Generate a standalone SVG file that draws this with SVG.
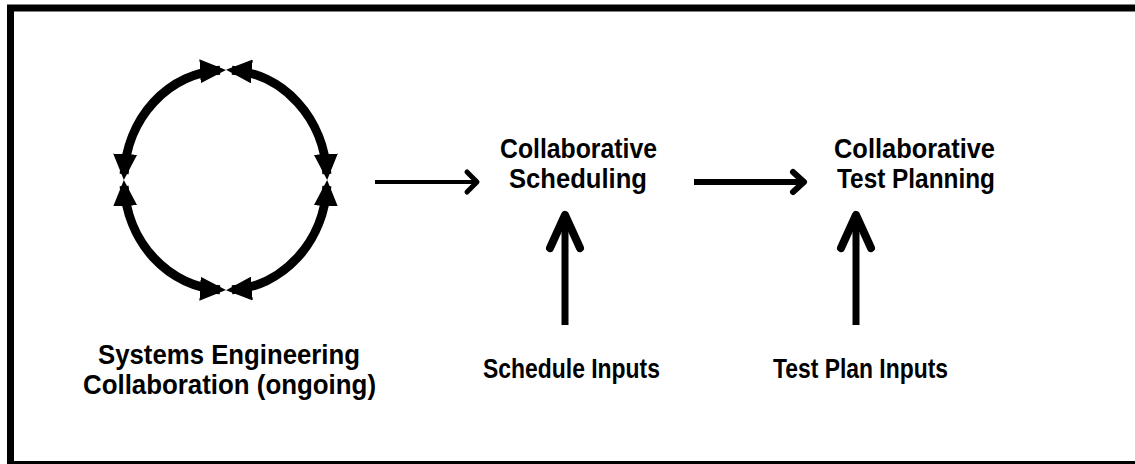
<svg xmlns="http://www.w3.org/2000/svg" width="1135" height="464" viewBox="0 0 1135 464">
<style>
  .lbl { font-family: "Liberation Sans", Arial, sans-serif; font-weight: bold; font-size: 27px; fill: #000; text-anchor: middle; }
  .ring { fill: none; stroke: #000; stroke-width: 9; marker-start: url(#tri); marker-end: url(#tri); }
  .line { fill: none; stroke: #000; stroke-linecap: butt; }
  .chev { fill: none; stroke: #000; stroke-linecap: round; stroke-linejoin: round; }
</style>
<defs>
  <marker id="tri" markerUnits="userSpaceOnUse" viewBox="0 0 26 24" refX="20" refY="12" markerWidth="26" markerHeight="24" orient="auto-start-reverse">
    <path d="M0,0 L26,12 L0,24 z" fill="#000"/>
  </marker>
</defs>
<rect x="10.5" y="8" width="1140" height="456.5" fill="#fff" stroke="#000" stroke-width="7"/>

<g id="cycle">
  <path class="ring" d="M124.15,174.05 A101,110 0 0,1 220,70.2"/>
  <path class="ring" d="M232,70.2 A101,110 0 0,1 326.85,174.05"/>
  <path class="ring" d="M326.85,185.95 A101,110 0 0,1 232,289.8"/>
  <path class="ring" d="M220,289.8 A101,110 0 0,1 124.15,185.95"/>
</g>

<g id="se-label">
  <text class="lbl" x="229" y="364" textLength="262" lengthAdjust="spacingAndGlyphs">Systems Engineering</text>
  <text class="lbl" x="229.5" y="394" textLength="293" lengthAdjust="spacingAndGlyphs">Collaboration (ongoing)</text>
</g>

<g id="collab-scheduling">
  <text class="lbl" x="578.5" y="158" textLength="157" lengthAdjust="spacingAndGlyphs">Collaborative</text>
  <text class="lbl" x="578" y="188" textLength="138" lengthAdjust="spacingAndGlyphs">Scheduling</text>
</g>

<g id="collab-test-planning">
  <text class="lbl" x="914.5" y="158" textLength="161" lengthAdjust="spacingAndGlyphs">Collaborative</text>
  <text class="lbl" x="916" y="188" textLength="158" lengthAdjust="spacingAndGlyphs">Test Planning</text>
</g>

<g id="schedule-inputs">
  <text class="lbl" x="571.5" y="378" textLength="177" lengthAdjust="spacingAndGlyphs">Schedule Inputs</text>
</g>

<g id="test-plan-inputs">
  <text class="lbl" x="860.5" y="378" textLength="175" lengthAdjust="spacingAndGlyphs">Test Plan Inputs</text>
</g>

<g id="connectors">
  <line class="line" x1="375" y1="182" x2="476" y2="182" stroke-width="4"/>
  <polyline class="chev" points="467,172 477,182 467,192" stroke-width="5"/>
  <line class="line" x1="694" y1="182" x2="804" y2="182" stroke-width="6"/>
  <polyline class="chev" points="793,172 804,182 793,192" stroke-width="6"/>
  <line class="line" x1="565" y1="325" x2="565" y2="216" stroke-width="7"/>
  <polyline class="chev" points="550,248 565,215 580,248" stroke-width="8"/>
  <line class="line" x1="856" y1="325" x2="856" y2="216" stroke-width="7"/>
  <polyline class="chev" points="841,248 856,215 871,248" stroke-width="8"/>
</g>
</svg>
